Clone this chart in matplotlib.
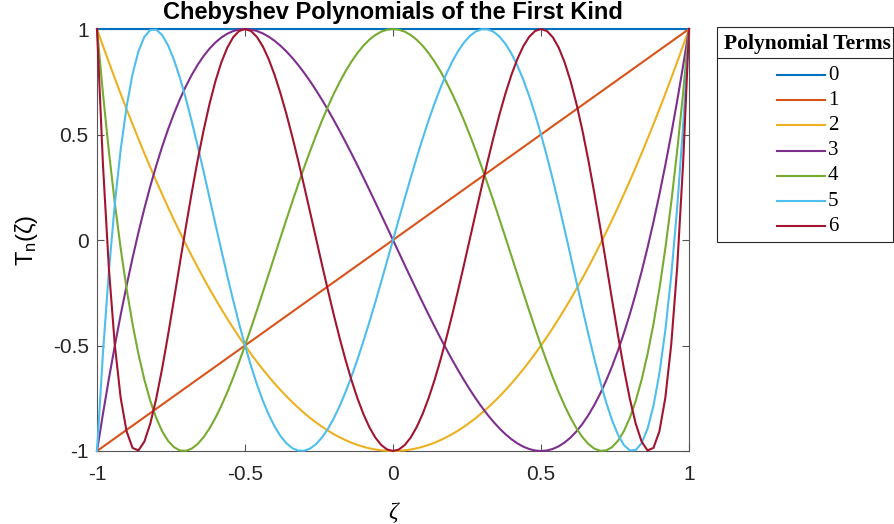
import numpy as np
import matplotlib
matplotlib.use("Agg")
import matplotlib.pyplot as plt
from matplotlib.lines import Line2D
from matplotlib.patches import Rectangle

plt.rcParams['font.family'] = ['Liberation Sans', 'DejaVu Sans']
plt.rcParams['mathtext.fontset'] = 'custom'
plt.rcParams['mathtext.rm'] = 'Liberation Sans'
plt.rcParams['mathtext.it'] = 'Liberation Sans:italic'
plt.rcParams['axes.unicode_minus'] = False

# ---- data ----
title = "Chebyshev Polynomials of the First Kind"
legend_title = "Polynomial Terms"
term_labels = ["0", "1", "2", "3", "4", "5", "6"]
# polynomial coefficients (highest power first) of T0..T6
coef_T0 = [1]
coef_T1 = [1, 0]
coef_T2 = [2, 0, -1]
coef_T3 = [4, 0, -3, 0]
coef_T4 = [8, 0, -8, 0, 1]
coef_T5 = [16, 0, -20, 0, 5, 0]
coef_T6 = [32, 0, -48, 0, 18, 0, -1]
x_start, x_stop, n_samples = -1.0, 1.0, 101
xticks = [-1, -0.5, 0, 0.5, 1]
xticklabels = ["-1", "-0.5", "0", "0.5", "1"]
yticks = [-1, -0.5, 0, 0.5, 1]
yticklabels = ["-1", "-0.5", "0", "0.5", "1"]

colors = ["#0072BD", "#D95319", "#EDB120", "#7E2F8E", "#77AC30", "#4DBEEE", "#A2142F"]
coefs = [coef_T0, coef_T1, coef_T2, coef_T3, coef_T4, coef_T5, coef_T6]

W, H = 894, 524
fig = plt.figure(figsize=(W / 100, H / 100), dpi=100)
ax = fig.add_axes([97 / W, 1 - 451 / H, 592 / W, 422 / H])

x = np.linspace(x_start, x_stop, n_samples)
for c, col in zip(coefs, colors):
    y = np.polyval(c, x) * np.ones_like(x)
    ax.plot(x, y, color=col, lw=1.5, clip_on=False, zorder=3)

ax.set_xlim(-1, 1)
ax.set_ylim(-1, 1)
ax.set_xticks(xticks)
ax.set_xticklabels(xticklabels)
ax.set_yticks(yticks)
ax.set_yticklabels(yticklabels)
spine_col = '#555555'
for s in ax.spines.values():
    s.set_color(spine_col)
    s.set_linewidth(0.8)
ax.tick_params(direction='in', length=5, width=0.8, color=spine_col,
               labelsize=15, labelcolor='#262626', top=True, right=True)
ax.tick_params(axis='x', pad=10)
ax.tick_params(axis='y', pad=6)

ax.set_title(title, fontsize=17, fontweight='bold', pad=7)
ax.set_xlabel("ζ", fontsize=17, family=['Liberation Serif'], style='italic', labelpad=13)
ax.set_ylabel("T$_{\\mathrm{n}}$(ζ)", fontsize=17, labelpad=9)

# ---- legend (manual box, MATLAB style) ----
def fx(px):
    return px / W

def fy(py):
    return 1 - py / H

tf = fig.transFigure
fig.add_artist(Rectangle((fx(717), fy(242)), fx(893) - fx(717), fy(27) - fy(242),
                         transform=tf, facecolor='white', edgecolor='#262626', lw=0.8))
fig.add_artist(Line2D([fx(717), fx(893)], [fy(58), fy(58)], transform=tf,
                      color='#262626', lw=0.8))
fig.text(fx(807), fy(44), legend_title, transform=tf, ha='center', va='center',
         fontsize=15.5, fontweight='bold', family=['Liberation Serif'])
for i, (lab, col) in enumerate(zip(term_labels, colors)):
    yy = fy(75 + 25.2 * i)
    fig.add_artist(Line2D([fx(777), fx(825)], [yy, yy], transform=tf, color=col, lw=1.5))
    fig.text(fx(828), yy, lab, transform=tf, ha='left', va='center',
             fontsize=15, family=['Liberation Serif'])

fig.savefig("out.png", dpi=100)
